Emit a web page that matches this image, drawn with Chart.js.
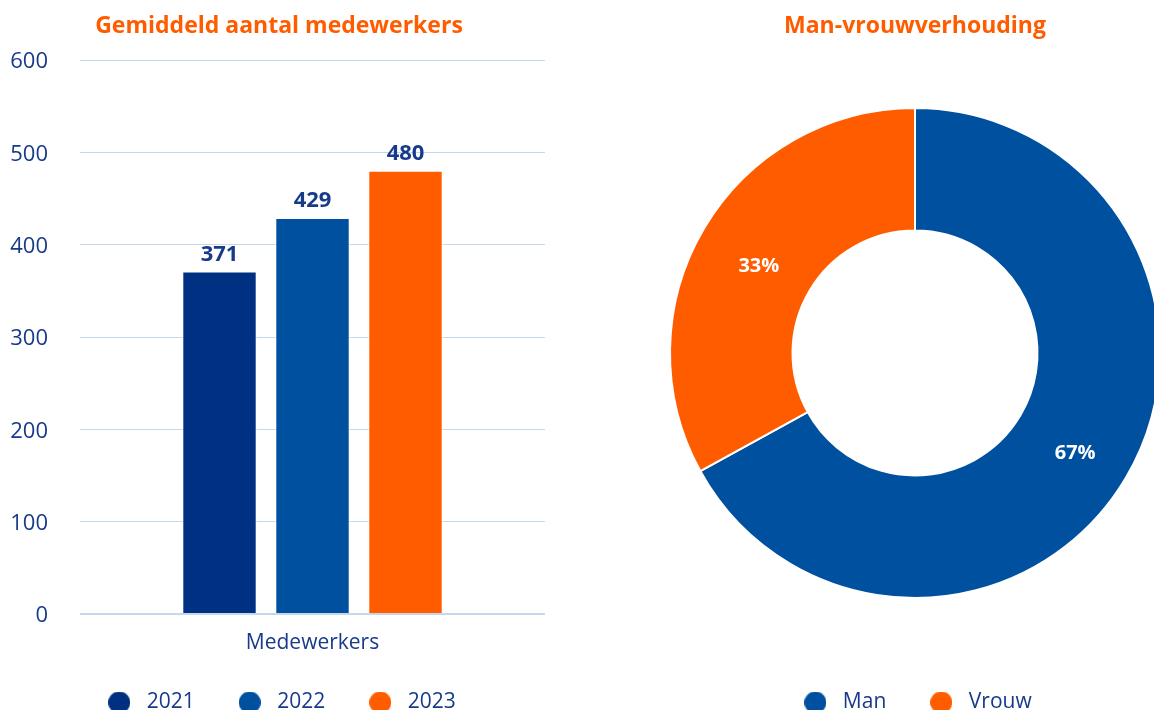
<!DOCTYPE html>
<html>
<head>
<meta charset="utf-8">
<script src="https://cdn.jsdelivr.net/npm/chart.js@4.4.1/dist/chart.umd.min.js"></script>
<style>
  html, body { margin: 0; padding: 0; background: #fff; overflow: hidden; width: 1154px; height: 710px; }
  .box { position: absolute; top: 0; height: 723px; }
  #leftBox { left: 0; width: 558px; }
  #rightBox { left: 659px; width: 512px; }
</style>
</head>
<body>
<div class="box" id="leftBox"><canvas id="barChart"></canvas></div>
<div class="box" id="rightBox"><canvas id="pieChart"></canvas></div>
<script>
// ---- Data ----
const barTitle = 'Gemiddeld aantal medewerkers';
const barCategories = ['Medewerkers'];
const barYears = ['2021', '2022', '2023'];
const barValues = [371, 429, 480];
const yTicks = [0, 100, 200, 300, 400, 500, 600];

const pieTitle = 'Man-vrouwverhouding';
const pieLabels = ['Man', 'Vrouw'];
const pieValues = [67, 33];

// ---- Styles ----
const FONT = "'Open Sans', 'Noto Sans', sans-serif";
const NAVY_TEXT = '#173a8a';
const ORANGE = '#ff5c00';
const barColors = ['#003082', '#0050a0', '#ff5c00'];
const pieColors = ['#0050a0', '#ff5c00'];
const GRID = '#c6d7ec';

function dotImage(color) {
  const c = document.createElement('canvas');
  c.width = 22; c.height = 22;
  const g = c.getContext('2d');
  g.fillStyle = color;
  g.beginPath();
  g.arc(11, 11, 11, 0, Math.PI * 2);
  g.fill();
  return c;
}

function legendOpts(makeItems) {
  return {
    position: 'bottom',
    labels: {
      usePointStyle: true,
      pointStyleWidth: 34,
      padding: 38,
      color: NAVY_TEXT,
      font: { family: FONT, size: 21 },
      generateLabels: makeItems
    }
  };
}

const barLabelPlugin = {
  id: 'barLabels',
  afterDatasetsDraw(chart) {
    const ctx = chart.ctx;
    ctx.save();
    ctx.font = `bold 22px ${FONT}`;
    ctx.fillStyle = NAVY_TEXT;
    ctx.textAlign = 'center';
    ctx.textBaseline = 'middle';
    chart.data.datasets.forEach((ds, i) => {
      const meta = chart.getDatasetMeta(i);
      meta.data.forEach((el, j) => {
        ctx.fillText(String(ds.data[j]), el.x, el.y - 17);
      });
    });
    ctx.restore();
  }
};

const pieLabelPlugin = {
  id: 'pieLabels',
  afterDatasetsDraw(chart) {
    const ctx = chart.ctx;
    ctx.save();
    ctx.font = `bold 20px ${FONT}`;
    ctx.fillStyle = '#ffffff';
    ctx.textAlign = 'center';
    ctx.textBaseline = 'middle';
    const meta = chart.getDatasetMeta(0);
    meta.data.forEach((el, j) => {
      const p = el.tooltipPosition();
      ctx.fillText(chart.data.datasets[0].data[j] + '%', p.x + 2, p.y + 7);
    });
    ctx.restore();
  }
};

Chart.defaults.font.family = FONT;
Chart.defaults.animation = false;

new Chart(document.getElementById('barChart'), {
  type: 'bar',
  data: {
    labels: barCategories,
    datasets: barYears.map((y, i) => ({
      label: y,
      data: [barValues[i]],
      backgroundColor: barColors[i],
      borderColor: '#ffffff',
      borderWidth: 1,
      categoryPercentage: 0.6,
      barPercentage: 0.8
    }))
  },
  options: {
    responsive: true,
    maintainAspectRatio: false,
    animation: false,
    layout: { padding: 0 },
    scales: {
      x: {
        grid: { display: false, drawTicks: false },
        border: { display: false },
        ticks: { color: NAVY_TEXT, font: { family: FONT, size: 21, lineHeight: 1 }, padding: 19 },
        afterFit(s) { s.height = 40; }
      },
      y: {
        min: 0, max: 600,
        afterBuildTicks(s) { s.ticks = yTicks.map(v => ({ value: v })); },
        grid: {
          color: GRID,
          lineWidth: (c) => (c.tick && c.tick.value === 0 ? 2 : 1),
          drawTicks: false
        },
        border: { display: false },
        ticks: { color: NAVY_TEXT, font: { family: FONT, size: 22 }, padding: 32, labelOffset: 2 },
        afterFit(s) { s.width = 80; }
      },
      yRight: {
        position: 'right',
        display: true,
        grid: { display: false, drawTicks: false },
        border: { display: false },
        ticks: { display: false },
        afterFit(s) { s.width = 13; }
      }
    },
    plugins: {
      title: {
        display: true,
        text: barTitle,
        color: ORANGE,
        font: { family: FONT, size: 23, weight: 'bold' },
        padding: { top: 13, bottom: 19.4 }
      },
      legend: legendOpts(chart => chart.data.datasets.map((ds, i) => ({
        text: ds.label,
        fillStyle: ds.backgroundColor,
        strokeStyle: ds.backgroundColor,
        lineWidth: 0,
        hidden: !chart.isDatasetVisible(i),
        datasetIndex: i,
        pointStyle: dotImage(ds.backgroundColor),
        fontColor: NAVY_TEXT
      }))),
      tooltip: { enabled: false }
    }
  },
  plugins: [barLabelPlugin]
});

new Chart(document.getElementById('pieChart'), {
  type: 'doughnut',
  data: {
    labels: pieLabels,
    datasets: [{
      data: pieValues,
      backgroundColor: pieColors,
      borderColor: '#ffffff',
      borderWidth: 2
    }]
  },
  options: {
    responsive: true,
    maintainAspectRatio: false,
    animation: false,
    cutout: '50%',
    layout: { padding: { left: 10, right: 10, top: 0, bottom: 0 } },
    plugins: {
      title: {
        display: true,
        text: pieTitle,
        color: ORANGE,
        font: { family: FONT, size: 23, weight: 'bold' },
        padding: { top: 13, bottom: 11.4 }
      },
      legend: legendOpts(chart => chart.data.labels.map((l, i) => ({
        text: l,
        fillStyle: pieColors[i],
        strokeStyle: pieColors[i],
        lineWidth: 0,
        hidden: false,
        index: i,
        pointStyle: dotImage(pieColors[i]),
        fontColor: NAVY_TEXT
      }))),
      tooltip: { enabled: false }
    }
  },
  plugins: [pieLabelPlugin]
});
</script>
</body>
</html>
